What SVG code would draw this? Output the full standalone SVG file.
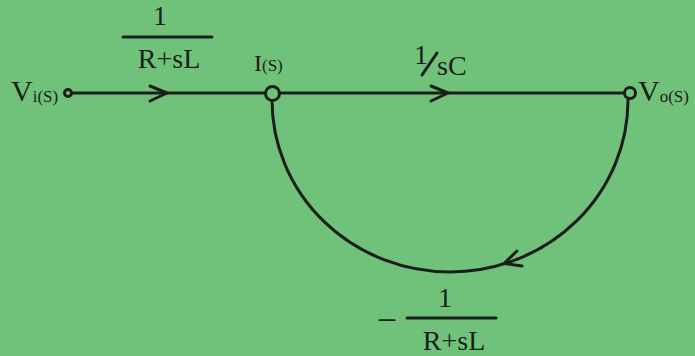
<svg xmlns="http://www.w3.org/2000/svg" width="695" height="356" viewBox="0 0 695 356">
<style>
.t{font-family:"Liberation Serif","Times New Roman",serif;fill:#1a1f1a}
.big{font-size:28px}
.sub{font-size:17px}
.ln{stroke:#1a1f1a;stroke-width:3;fill:none;stroke-linecap:round;stroke-linejoin:round}
.nd{stroke:#1a1f1a;stroke-width:3;fill:#70c27a}
</style>
<rect width="695" height="356" fill="#70c27a"/>
<g id="connectors">
<path class="ln" d="M 72 93 L 265 93"/>
<path class="ln" d="M 150 86 L 167 93 L 150 101"/>
<path class="ln" d="M 280 93 L 624 93"/>
<path class="ln" d="M 431 86 L 448 93 L 431 101"/>
<path class="ln" d="M 272 100 A 178 172 0 0 0 628 100"/>
<path class="ln" d="M 517 251 L 504 263.5 L 522 266"/>
</g>
<g id="labels">
<text class="t big" x="160" y="25" text-anchor="middle">1</text>
<line class="ln" x1="123" y1="37" x2="212" y2="37" stroke-width="2.5"/>
<text class="t big" x="169" y="68" text-anchor="middle">R+sL</text>
<text class="t big" x="414" y="64" font-size="20">1</text>
<line class="ln" x1="422" y1="75" x2="437" y2="53" stroke-width="2.5"/>
<text class="t big" x="437" y="75">sC</text>
<text class="t" x="387" y="332" text-anchor="middle" font-size="36">−</text>
<line class="ln" x1="407" y1="318" x2="496" y2="318" stroke-width="2.5"/>
<text class="t big" x="445" y="307" text-anchor="middle">1</text>
<text class="t big" x="454" y="350" text-anchor="middle">R+sL</text>
</g>
<g id="node-vi">
<circle class="nd" cx="68" cy="93" r="3.5"/>
<text class="t" x="11" y="101" font-size="30">V<tspan class="sub" dy="1">i(S)</tspan></text>
</g>
<g id="node-i">
<circle class="nd" cx="272.5" cy="93.5" r="7"/>
<text class="t" x="254" y="71" font-size="24">I<tspan class="sub" font-size="16">(S)</tspan></text>
</g>
<g id="node-vo">
<circle class="nd" cx="630" cy="93" r="5.5"/>
<text class="t" x="638" y="101" font-size="30">V<tspan class="sub" dy="1">o(S)</tspan></text>
</g>
</svg>
